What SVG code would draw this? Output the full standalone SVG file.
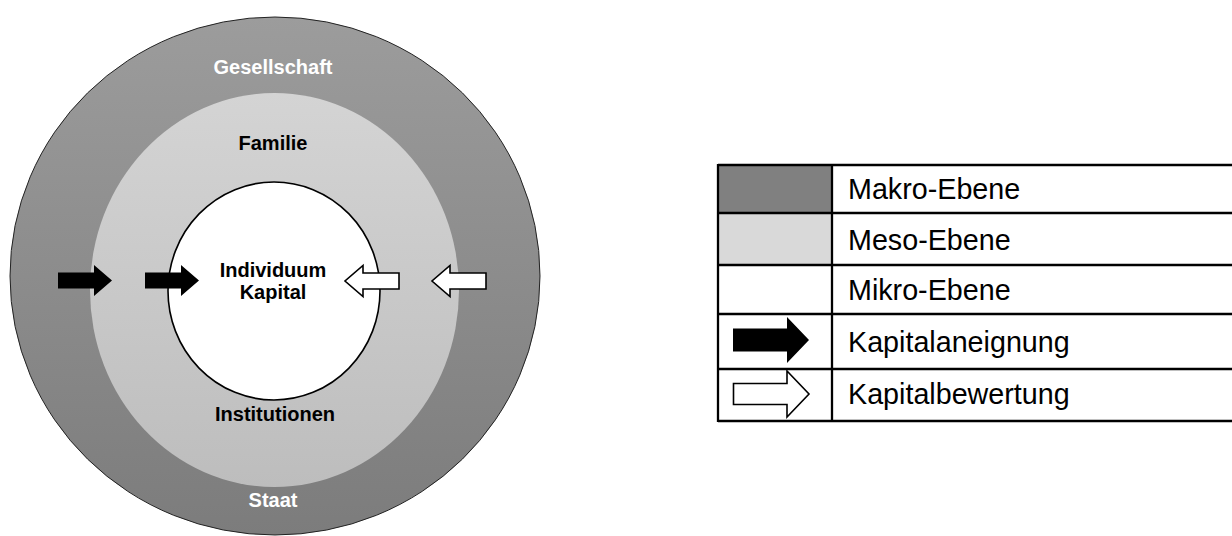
<svg xmlns="http://www.w3.org/2000/svg" width="1232" height="536" viewBox="0 0 1232 536">
<defs>
<linearGradient id="gOuter" x1="0" y1="0" x2="0" y2="1">
<stop offset="0" stop-color="#9c9c9c"/>
<stop offset="1" stop-color="#7c7c7c"/>
</linearGradient>
<linearGradient id="gMid" x1="0" y1="0" x2="0" y2="1">
<stop offset="0" stop-color="#d4d4d4"/>
<stop offset="1" stop-color="#bdbdbd"/>
</linearGradient>
<path id="arrowR" d="M0,-8 H36 V-15.5 L54,0 L36,15.5 V8 H0 Z"/>
</defs>
<style>
.lbl{font-family:"Liberation Sans",Arial,sans-serif;font-weight:bold;font-size:20px;text-anchor:middle}
.wt{fill:#ffffff}
.bk{fill:#000000}
.leg{font-family:"Liberation Sans",Arial,sans-serif;font-size:28.7px;fill:#000}
.blackArrow{fill:#000;stroke:none}
.whiteArrow{fill:#fff;stroke:#000;stroke-width:1.6;stroke-linejoin:miter}
.tbl{stroke:#000;stroke-width:2.3;fill:none}
</style>
<rect width="1232" height="536" fill="#ffffff"/>

<g id="makro">
<ellipse cx="275" cy="276" rx="265" ry="259" fill="url(#gOuter)" stroke="#222" stroke-width="1"/>
<text class="lbl wt" x="273" y="74">Gesellschaft</text>
<text class="lbl wt" x="273" y="507">Staat</text>
</g>

<g id="meso">
<ellipse cx="274.5" cy="290" rx="184.5" ry="197" fill="url(#gMid)"/>
<text class="lbl bk" x="273" y="150">Familie</text>
<text class="lbl bk" x="275" y="421">Institutionen</text>
</g>

<g id="mikro">
<ellipse cx="274" cy="291" rx="106" ry="109" fill="#ffffff" stroke="#000" stroke-width="1.6"/>
<text class="lbl bk" x="273" y="277">Individuum</text>
<text class="lbl bk" x="273" y="299">Kapital</text>
</g>

<g id="connectors">
<use href="#arrowR" class="blackArrow" transform="translate(58,280.5)"/>
<use href="#arrowR" class="blackArrow" transform="translate(145,280.5)"/>
<use href="#arrowR" class="whiteArrow" transform="translate(399,281) scale(-1,1)"/>
<use href="#arrowR" class="whiteArrow" transform="translate(486,281) scale(-1,1)"/>
</g>

<g id="legend">
<rect x="718" y="165" width="114" height="48" fill="#808080"/>
<rect x="718" y="213" width="114" height="52" fill="#d9d9d9"/>
<path class="tbl" d="M718,165 H1240 M718,213 H1240 M718,265 H1240 M718,314 H1240 M718,369 H1240 M718,421 H1240 M718,164 V422 M832,164 V422"/>
<text class="leg" x="848" y="198.5">Makro-Ebene</text>
<text class="leg" x="848" y="249.5">Meso-Ebene</text>
<text class="leg" x="848" y="299.5">Mikro-Ebene</text>
<text class="leg" x="848" y="352">Kapitalaneignung</text>
<text class="leg" x="848" y="404">Kapitalbewertung</text>
<path class="blackArrow" d="M733,328.5 H787 V317 L809,340 L787,363 V351.5 H733 Z"/>
<path class="whiteArrow" d="M733.5,383.5 H787 V371 L809,394 L787,417 V404.5 H733.5 Z"/>
</g>
</svg>
